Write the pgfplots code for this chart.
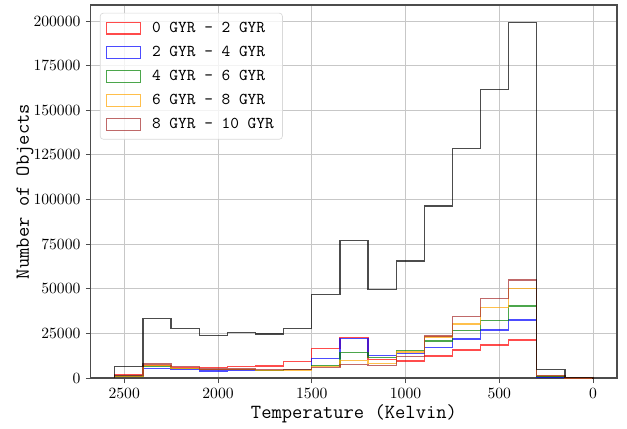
\documentclass[border=0pt]{standalone}
\usepackage{pgfplots}
\usepackage{pgfplotstable}
\pgfplotsset{compat=1.18}
\definecolor{cRed}{RGB}{255,0,0}
\definecolor{cBlue}{RGB}{0,0,255}
\definecolor{cGreen}{RGB}{0,128,0}
\definecolor{cOrange}{RGB}{255,165,0}
\definecolor{cBrown}{RGB}{165,42,42}
\definecolor{cBlack}{RGB}{0,0,0}
\pgfplotstableread{
x    red   blue  green orange brown black
0    0     0     0     0      0     0
0    20    10    10    10     10    300
150  900   500   800   1300   1400  4900
300  21300 32500 40300 50000  54900 199000
450  18500 26900 32100 39400  44600 161800
600  15700 21800 26500 30200  34500 128500
750  12300 17200 20700 23000  23500 96300
900  9500  13800 15400 14600  12000 65500
1050 10500 12500 11500 8000   7000  49400
1200 22600 22300 14400 9900   7600  77200
1350 16500 10800 7200  6500   5800  46600
1500 9200  4700  4600  4300   4900  27800
1650 6800  4200  4400  4400   4600  24600
1800 6400  4400  4600  4600   5000  25600
1950 5800  4000  4600  4600   5000  24000
2100 5900  4600  5400  5400   6300  27800
2250 6900  5300  6300  6900   7800  33200
2400 1700  1100  1200  1000   1300  6300
2550 0     0     0     0      0     0
}\histdata
\begin{document}
\begin{tikzpicture}
\begin{axis}[
  scale only axis, width=336.6pt, height=238.7pt,
  x dir=reverse, xmin=-127.5, xmax=2677.5, ymin=0, ymax=208950,
  xtick={0,500,1000,1500,2000,2500},
  ytick={0,25000,50000,75000,100000,125000,150000,175000,200000},
  scaled y ticks=false, scaled x ticks=false,
  yticklabel style={/pgf/number format/fixed, /pgf/number format/1000 sep={}},
  xticklabel style={/pgf/number format/fixed, /pgf/number format/1000 sep={}},
  ticklabel style={font=\fontsize{10}{12}\selectfont},
  grid=major, major grid style={black!22, line width=0.5pt},
  axis line style={black!70, line width=0.7pt},
  tick align=outside, tick pos=left, major tick length=3.2pt,
  tick style={black!70, line width=0.6pt},
  xlabel={Temperature (Kelvin)}, ylabel={Number of Objects},
  every axis x label/.style={at={(axis description cs:0.5,-0.097)}, anchor=center, font=\fontsize{12.8}{15}\selectfont\ttfamily},
  every axis y label/.style={at={(axis description cs:-0.1255,0.5)}, rotate=90, anchor=center, font=\fontsize{12.8}{15}\selectfont\ttfamily},
  legend image code/.code={\draw[#1, sharp corners, line width=0.7pt] (0pt,-3.8pt) rectangle (22pt,3.8pt);},
  legend cell align=left,
  legend style={at={(0.017,0.979)}, anchor=north west, draw=black!15, rounded corners=2pt,
    fill=white, fill opacity=0.8, text opacity=1, font=\fontsize{10.6}{12}\selectfont\ttfamily,
    row sep=3.3pt, inner sep=3.5pt,
    /tikz/every odd column/.append style={column sep=5pt}},
]
\addplot[const plot, cRed, draw opacity=0.7, line width=0.8pt] table[x=x, y=red] {\histdata};
\addlegendentry{0 GYR - 2 GYR}
\addplot[const plot, cBlue, draw opacity=0.7, line width=0.8pt] table[x=x, y=blue] {\histdata};
\addlegendentry{2 GYR - 4 GYR}
\addplot[const plot, cGreen, draw opacity=0.7, line width=0.8pt] table[x=x, y=green] {\histdata};
\addlegendentry{4 GYR - 6 GYR}
\addplot[const plot, cOrange, draw opacity=0.7, line width=0.8pt] table[x=x, y=orange] {\histdata};
\addlegendentry{6 GYR - 8 GYR}
\addplot[const plot, cBrown, draw opacity=0.7, line width=0.8pt] table[x=x, y=brown] {\histdata};
\addlegendentry{8 GYR - 10 GYR}
\addplot[const plot, cBlack, draw opacity=0.7, line width=0.8pt, forget plot] table[x=x, y=black] {\histdata};
\end{axis}
\path (current axis.south west) ++(-58.2pt,-30.1pt) coordinate (bbA);
\path (current axis.north east) ++(6.4pt,3.2pt) coordinate (bbB);
\end{tikzpicture}
\end{document}
